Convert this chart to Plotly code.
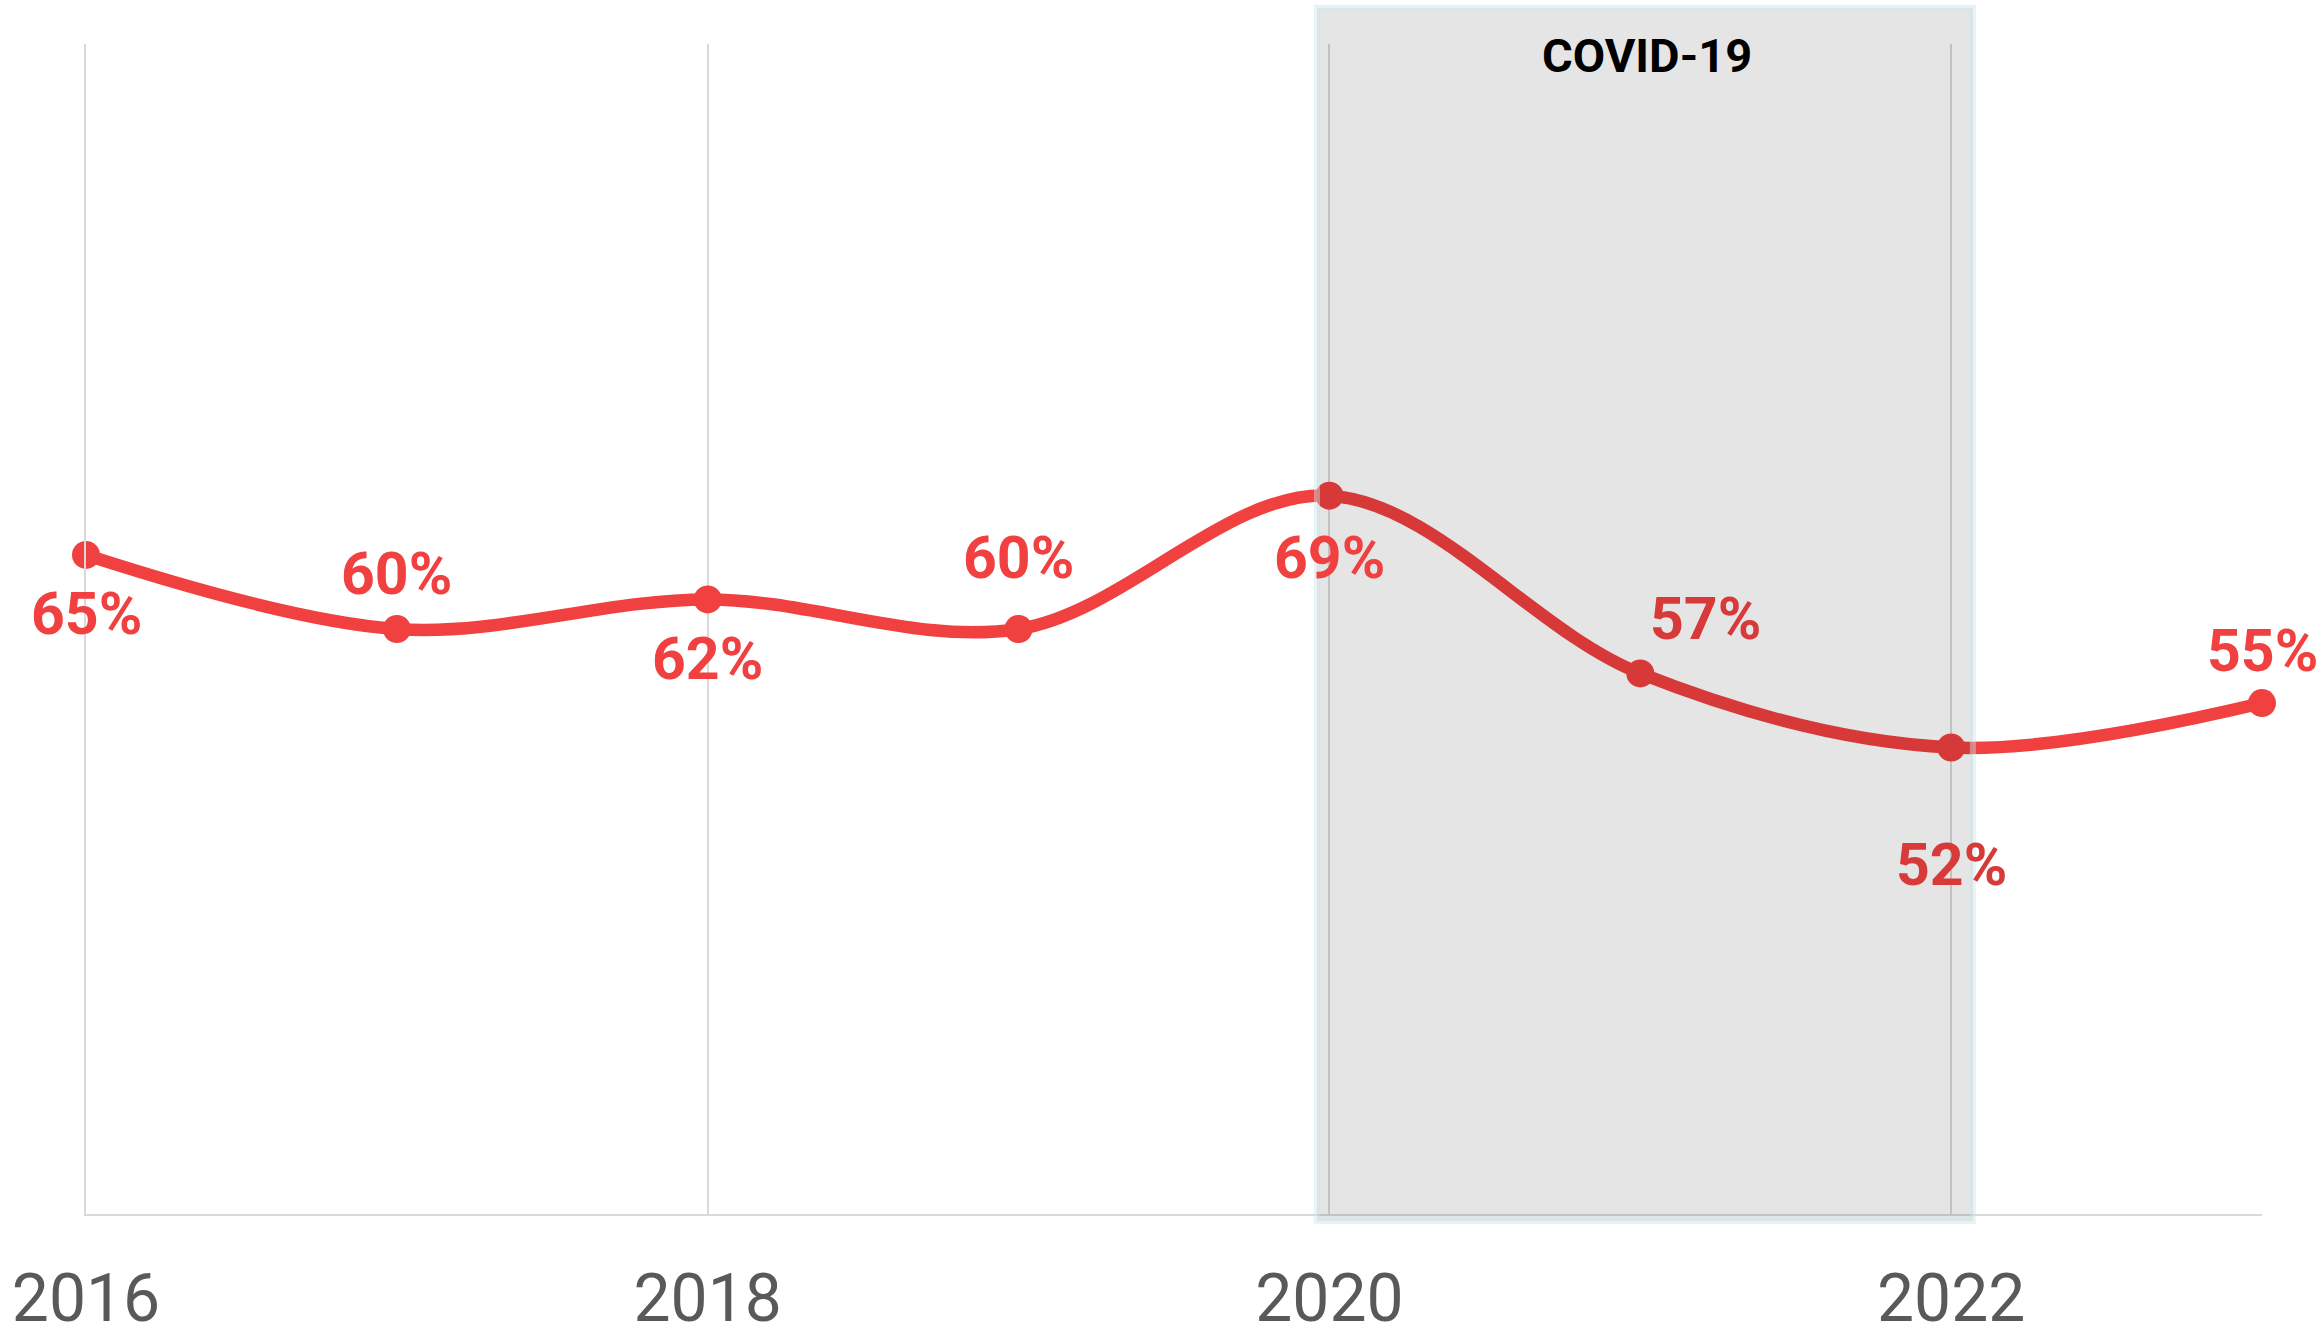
import plotly.graph_objects as go

# DATA #########################################################################

years = [2016, 2017, 2018, 2019, 2020, 2021, 2022, 2023]
share = [65, 60, 62, 60, 69, 57, 52, 55]
labels = ["65%", "60%", "62%", "60%", "69%", "57%", "52%", "55%"]

covid_start = 2020
covid_end = 2022
covid_label = "COVID-19"

# STYLE ########################################################################

red = "#f04040"
red_dark = "#d83a3a"   # red seen through the grey covid overlay
# where each value label sits relative to its point (px)
label_dx = [0, 0, 0, 0, 0, 65, 0, 0]
label_dy = [-59, 56, -59, 72, -62, 55, -117, 53]
label_col = [red, red, red, red, red, red_dark, red_dark, red]

# FIGURE #######################################################################

fig = go.Figure()

fig.add_trace(go.Scatter(
    x=years, y=share,
    mode="lines+markers",
    line=dict(color=red, width=12.5, shape="spline", smoothing=1),
    marker=dict(color=red, size=28),
    cliponaxis=False,
    hoverinfo="skip",
    showlegend=False,
))

for x, y, t, dx, dy, c in zip(years, share, labels, label_dx, label_dy, label_col):
    fig.add_annotation(
        x=x, y=y, text=t, showarrow=False,
        xshift=dx, yshift=dy,
        font=dict(family="Roboto", size=59, color=c, weight="bold"),
    )

# covid period: grey overlay drawn above the line, like a multiply layer
fig.add_shape(
    type="rect", layer="above",
    x0=covid_start - 0.04, x1=covid_end + 0.07,
    yref="paper", y0=-0.006, y1=1.031,
    fillcolor="rgba(0,0,0,0.1)",
    line=dict(color="rgba(205,228,236,0.45)", width=6),
)
fig.add_annotation(
    x=(covid_start + covid_end) / 2 + 0.02, yref="paper", y=0.99,
    text=covid_label, showarrow=False, yanchor="middle",
    font=dict(family="Roboto", size=47, color="black", weight="bold"),
)

fig.update_xaxes(
    range=[years[0], years[-1]],
    tickmode="linear", tick0=2016, dtick=2,
    showgrid=True, gridcolor="#d9d9d9", gridwidth=2,
    showline=True, linecolor="#d9d9d9", linewidth=2,
    zeroline=False, ticks="",
    automargin=False,
    ticklabelstandoff=26,
    tickfont=dict(family="Roboto", size=66, color="#595959"),
)
# the left axis line doubles as the 2016 gridline
fig.update_yaxes(
    range=[20.5, 99.5],
    showgrid=False, zeroline=False, showticklabels=False,
    showline=True, linecolor="#d9d9d9", linewidth=2,
    automargin=False,
)

fig.update_layout(
    width=2321, height=1338,
    margin=dict(l=86, r=59, t=44, b=124),
    paper_bgcolor="white",
    plot_bgcolor="white",
)

fig.write_html(
    "out.html",
    config={"displayModeBar": False},
    post_script="document.body.style.margin='0';document.body.style.overflow='hidden';",
)
